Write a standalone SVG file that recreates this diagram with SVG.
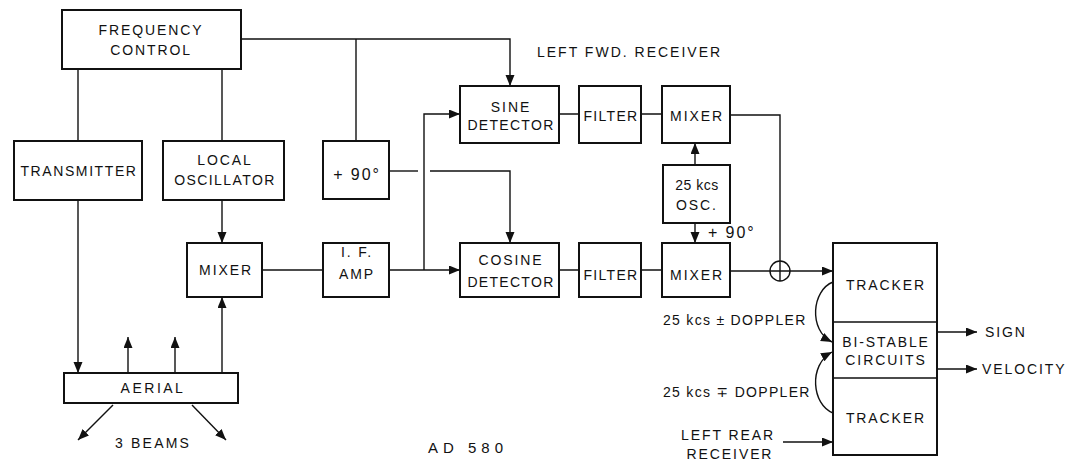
<svg xmlns="http://www.w3.org/2000/svg" width="1088" height="461" viewBox="0 0 1088 461">
<style>
.box{fill:#fff;stroke:#111;stroke-width:2}
.ln{fill:none;stroke:#111;stroke-width:1.4}
text{font-family:"Liberation Sans","DejaVu Sans",sans-serif;font-size:14px;fill:#111;letter-spacing:1.9px}
.c{text-anchor:middle}
</style>
<defs>
<marker id="ah" markerUnits="userSpaceOnUse" markerWidth="12" markerHeight="10" refX="11" refY="4.5" orient="auto">
<path d="M0,0 L11,4.5 L0,9 z" fill="#111"/>
</marker>
</defs>
<rect width="1088" height="461" fill="#fff"/>
<g id="connectors">
<path class="ln" d="M78,69 V141"/>
<path class="ln" d="M222,69 V141"/>
<path class="ln" d="M241,39 H510 V86" marker-end="url(#ah)"/>
<path class="ln" d="M356,39 V141"/>
<path class="ln" d="M78,200 V373" marker-end="url(#ah)"/>
<path class="ln" d="M222,200 V243" marker-end="url(#ah)"/>
<path class="ln" d="M222,373 V297" marker-end="url(#ah)"/>
<path class="ln" d="M128,373 V337" marker-end="url(#ah)"/>
<path class="ln" d="M175,373 V337" marker-end="url(#ah)"/>
<path class="ln" d="M113,405 L78,440" marker-end="url(#ah)"/>
<path class="ln" d="M192,405 L226,440" marker-end="url(#ah)"/>
<path class="ln" d="M262,270 H323"/>
<path class="ln" d="M389,270 H460" marker-end="url(#ah)"/>
<path class="ln" d="M424,270 V114 H460" marker-end="url(#ah)"/>
<path class="ln" d="M389,171 H418"/>
<path class="ln" d="M430,171 H510 V243" marker-end="url(#ah)"/>
<path class="ln" d="M559,114 H579 M641,114 H662"/>
<path class="ln" d="M559,270 H579 M641,270 H662"/>
<path class="ln" d="M730,115 H780 V261"/>
<circle cx="780" cy="271" r="10" class="ln"/>
<path class="ln" d="M780,261 V281"/>
<path class="ln" d="M730,271 H833" marker-end="url(#ah)"/>
<path class="ln" d="M695,165 V143" marker-end="url(#ah)"/>
<path class="ln" d="M695,223 V243" marker-end="url(#ah)"/>
<path class="ln" d="M937,332 H977" marker-end="url(#ah)"/>
<path class="ln" d="M937,369 H977" marker-end="url(#ah)"/>
<path class="ln" d="M783,442 H833" marker-end="url(#ah)"/>
<path class="ln" stroke-width="1" d="M833,282 C812,290 808,330 832,342" marker-end="url(#ah)"/>
<path class="ln" stroke-width="1" d="M833,413 C812,405 808,365 832,352" marker-end="url(#ah)"/>
</g>
<g id="freq-control"><rect class="box" x="62" y="10" width="179" height="59"/><text class="c" x="151" y="35">FREQUENCY</text><text class="c" x="151" y="55">CONTROL</text></g>
<g id="transmitter"><rect class="box" x="14" y="141" width="128" height="59"/><text class="c" x="79" y="176" style="letter-spacing:1.6px">TRANSMITTER</text></g>
<g id="local-osc"><rect class="box" x="163" y="141" width="121" height="59"/><text class="c" x="225" y="165">LOCAL</text><text class="c" x="225" y="185" style="letter-spacing:1.4px">OSCILLATOR</text></g>
<g id="plus90"><rect class="box" x="323" y="141" width="66" height="58"/><text class="c" x="357" y="180" style="font-size:16px">+ 90°</text></g>
<g id="mixer-left"><rect class="box" x="187" y="243" width="75" height="54"/><text class="c" x="226" y="275">MIXER</text></g>
<g id="if-amp"><rect class="box" x="323" y="243" width="66" height="54"/><text class="c" x="357" y="257">I. F.</text><text class="c" x="357" y="279">AMP</text></g>
<g id="aerial"><rect class="box" x="64" y="373" width="174" height="30"/><text class="c" x="153" y="393" style="letter-spacing:2.5px">AERIAL</text></g>
<g id="sine-det"><rect class="box" x="460" y="86" width="99" height="57"/><text class="c" x="511" y="112">SINE</text><text class="c" x="511" y="130" style="letter-spacing:1.3px">DETECTOR</text></g>
<g id="filter-top"><rect class="box" x="579" y="86" width="62" height="57"/><text class="c" x="611" y="121" style="letter-spacing:1.3px">FILTER</text></g>
<g id="mixer-top"><rect class="box" x="662" y="86" width="68" height="57"/><text class="c" x="697" y="121">MIXER</text></g>
<g id="osc25"><rect class="box" x="663" y="165" width="67" height="58"/><text class="c" x="697" y="190" style="letter-spacing:0.5px">25 kcs</text><text class="c" x="697" y="210">OSC.</text></g>
<g id="cos-det"><rect class="box" x="460" y="243" width="99" height="54"/><text class="c" x="511" y="265">COSINE</text><text class="c" x="511" y="287" style="letter-spacing:1.3px">DETECTOR</text></g>
<g id="filter-bot"><rect class="box" x="579" y="243" width="62" height="54"/><text class="c" x="611" y="280" style="letter-spacing:1.3px">FILTER</text></g>
<g id="mixer-bot"><rect class="box" x="662" y="243" width="68" height="54"/><text class="c" x="697" y="280">MIXER</text></g>
<g id="tracker-block"><rect class="box" x="833" y="243" width="104" height="212"/><path class="ln" d="M833,322 H937 M833,378 H937"/><text class="c" x="886" y="290">TRACKER</text><text class="c" x="886" y="347">BI-STABLE</text><text class="c" x="886" y="365">CIRCUITS</text><text class="c" x="886" y="423">TRACKER</text></g>
<g id="labels">
<text x="537" y="57" style="letter-spacing:2px">LEFT FWD. RECEIVER</text>
<text x="708" y="238" style="font-size:16px">+ 90°</text>
<text x="663" y="325" style="letter-spacing:1.3px">25 kcs ± DOPPLER</text>
<text x="663" y="397" style="letter-spacing:1.3px">25 kcs ∓ DOPPLER</text>
<text class="c" x="728" y="440">LEFT REAR</text>
<text class="c" x="730" y="459">RECEIVER</text>
<text x="985" y="337">SIGN</text>
<text x="982" y="374">VELOCITY</text>
<text x="115" y="448" style="letter-spacing:2.2px">3 BEAMS</text>
<text x="428" y="453" style="font-size:15px;letter-spacing:5px">AD 580</text>
</g>
</svg>
